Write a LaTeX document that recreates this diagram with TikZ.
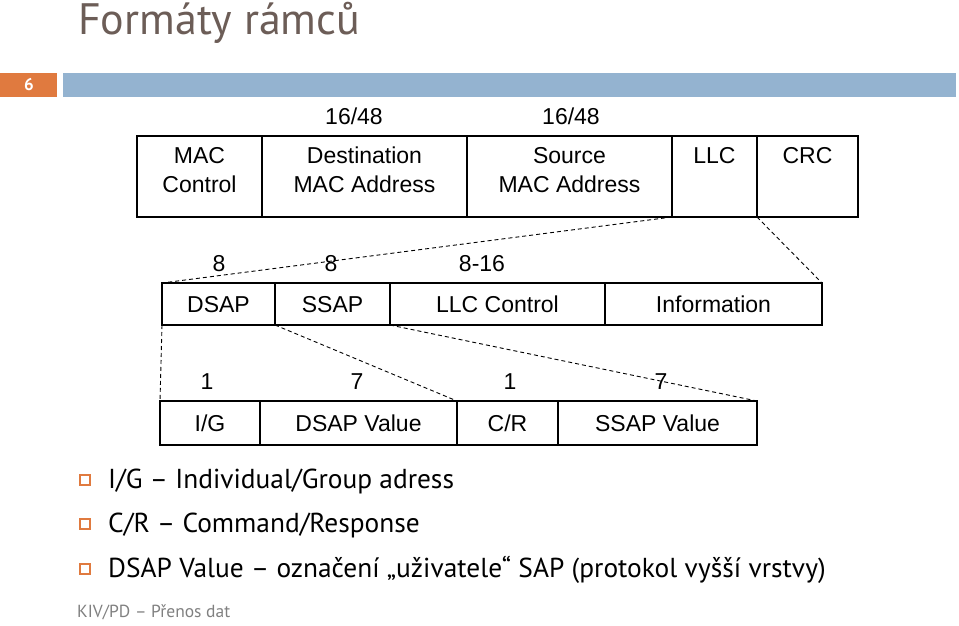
\documentclass[tikz,border=0pt]{standalone}
\usepackage{fontspec}
\setmainfont{Liberation Sans}
\newfontfamily\slidefont{PT Sans}
\usetikzlibrary{positioning}
\definecolor{slideorange}{RGB}{224,122,63}
\definecolor{slideblue}{RGB}{148,179,208}
\definecolor{titlegray}{RGB}{108,93,87}
\definecolor{footgray}{RGB}{128,128,128}

\begin{document}
\begin{tikzpicture}[x=1pt,y=-1pt,
    cell/.style={draw, line width=1.3pt, inner sep=0pt, outer sep=0pt, align=center,
      font=\fontsize{23}{29}\selectfont},
    sizelbl/.style={anchor=base, inner sep=0pt, font=\fontsize{23}{27}\selectfont},
    zoomline/.style={dash pattern=on 4pt off 3pt, line width=0.9pt},
    bulletbox/.style={draw=slideorange, line width=1.1pt, minimum size=10pt, inner sep=0pt},
    bullettext/.style={anchor=base west, inner sep=0pt, font=\slidefont\fontsize{27.4}{30}\selectfont}]
    \useasboundingbox (0,0) rectangle (959,625);

    % Slide head
    \node[anchor=base west, inner sep=0pt, text=titlegray,
      font=\slidefont\fontsize{44}{48}\selectfont] (title) at (78,34) {Formáty rámců};
    \fill[slideorange] (0,73) rectangle (57,97);
    \fill[slideblue] (63,73) rectangle (956,97);
    \node[text=white, font=\slidefont\bfseries\fontsize{17}{19}\selectfont] (slidenum) at (29,85) {6};

    % MAC frame
    \foreach \name/\xa/\xb/\txt in {mac/137/262/{MAC\\Control}, dst/262/467/{Destination\\MAC Address},
      src/467/672/{Source\\MAC Address}, llc/672/757/{LLC\\~}, crc/757/858/{CRC\\~}} {
      \pgfmathsetmacro\w{\xb-\xa}
      \node[cell, minimum width=\w, minimum height=81, text depth=13pt] (\name) at ({(\xa+\xb)/2},176.5) {\txt};
    }
    \foreach \x/\t [count=\i] in {354/{16/48}, 571/{16/48}}
      \node[sizelbl] (mlen\i) at (\x,124) {\t};

    % LLC header
    \foreach \name/\xa/\xb/\txt in {dsap/162/275/DSAP, ssap/275/390/SSAP,
      ctrl/390/605/LLC Control, info/605/822/Information} {
      \pgfmathsetmacro\w{\xb-\xa}
      \node[cell, minimum width=\w, minimum height=42, text height=16.5pt, text depth=0pt] (\name) at ({(\xa+\xb)/2},304) {\txt};
    }
    \foreach \x/\t [count=\i] in {219/8, 331/8, 482/8-16}
      \node[sizelbl] (llen\i) at (\x,271) {\t};

    % SAP fields
    \foreach \name/\xa/\xb/\txt in {ig/160/260/{I/G}, dval/260/457/DSAP Value,
      cr/457/558/{C/R}, sval/558/757/SSAP Value} {
      \pgfmathsetmacro\w{\xb-\xa}
      \node[cell, minimum width=\w, minimum height=44, text height=16.5pt, text depth=0pt] (\name) at ({(\xa+\xb)/2},423) {\txt};
    }
    \foreach \x/\t [count=\i] in {207/1, 357/7, 510/1, 661/7}
      \node[sizelbl] (slen\i) at (\x,389) {\t};

    % Zoom lines
    \draw[zoomline] (llc.south west) -- (dsap.north west);
    \draw[zoomline] (crc.south west) -- (info.north east);
    \draw[zoomline] (dsap.south west) -- (ig.north west);
    \draw[zoomline] (dsap.south east) -- (dval.north east);
    \draw[zoomline] (ssap.south east) -- (sval.north east);

    % Notes
    \foreach \y/\t [count=\i] in {488/{I/G – Individual/Group adress}, 532/{C/R – Command/Response},
      577/{DSAP Value – označení „uživatele“ SAP (protokol vyšší vrstvy)}} {
      \node[bulletbox] (box\i) at (85,\y-8) {};
      \node[bullettext] (note\i) at (108,\y) {\t};
    }

    \node[anchor=base west, inner sep=0pt, text=footgray,
      font=\slidefont\fontsize{17.5}{19}\selectfont] (footer) at (77,617) {KIV/PD – Přenos dat};
\end{tikzpicture}
\end{document}
